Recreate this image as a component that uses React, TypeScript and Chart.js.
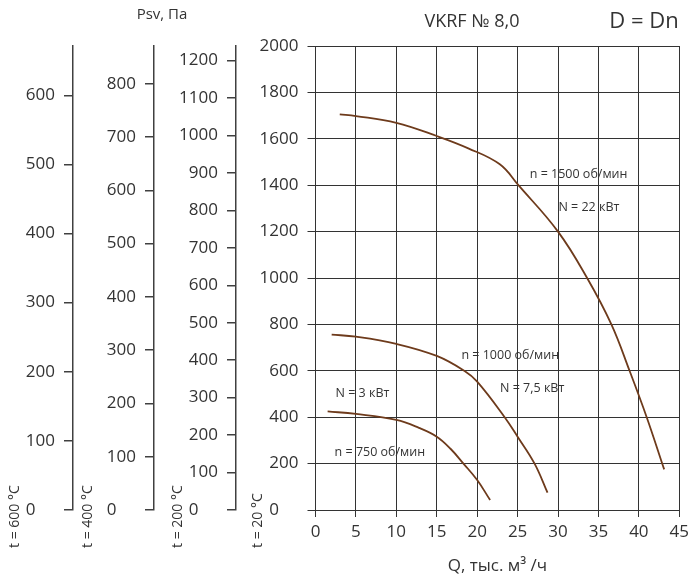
import React, { useEffect, useRef } from "react";
import { Chart, registerables } from "chart.js";

Chart.register(...registerables);

// ---- data ----
const qMin = 0;
const qMax = 45;
const qStep = 5;
const pMax20 = 2000;
const pStep20 = 200;
const pStepHot = 100;
const baseTemp = 20;
const hotTemps = [200, 400, 600];

const q1500 = [3.0, 5, 10, 15, 18.9, 22.8, 25.1, 30.0, 33.6, 36.6, 38.85, 40.97, 43.13];
const p1500 = [1705, 1698, 1669, 1612, 1559, 1490, 1400, 1200, 1000, 800, 600, 400, 175];

const q1000 = [2.0, 5, 10, 15, 18.4, 20, 23.4, 25, 27.1, 28.7];
const p1000 = [756, 747, 716, 664, 600, 553, 400, 316, 200, 75];

const q750 = [1.5, 5, 10, 12.8, 15, 16.7, 18.3, 20, 21.6];
const p750 = [425, 414, 388, 354, 316, 264, 200, 129, 43];

const noteTexts = ["n = 1500 об/мин", "N = 22 кВт", "n = 1000 об/мин", "N = 7,5 кВт", "N = 3 кВт", "n = 750 об/мин"];
const noteQ = [26.5, 30.05, 18.05, 22.83, 2.48, 2.36];
const noteP = [1448, 1306, 668, 522, 504, 250];

const titleMain = "VKRF № 8,0";
const titleD = "D = Dn";
const titleP = "Psv, Па";
const titleQ = "Q, тыс. м³ /ч";

// ---- styles ----
const FONT = "'Open Sans', 'DejaVu Sans', sans-serif";
const TEXT = "#333333";
const GRID = "#333333";
const AXIS = "#404040";
const CURVE = "#6e3b1c";

const tempMax = (t: number) => (pMax20 * (273 + baseTemp)) / (273 + t);
const zeroLabel = (v: any) => (Number(v) === 0 ? "0\u2007\u2007" : String(v));

const toPts = (xs: number[], ys: number[]) => xs.map((x, i) => ({ x, y: ys[i] }));

const scaleWidths: Record<string, number> = { y: 79.5, y200: 82, y400: 81, y600: 73 };

const textPlugin = {
  id: "texts",
  afterDraw(chart: any) {
    const ctx = chart.ctx as CanvasRenderingContext2D;
    const xs = chart.scales.x;
    const ys = chart.scales.y;
    ctx.save();
    ctx.fillStyle = TEXT;
    ctx.textBaseline = "middle";

    // notes on curves
    ctx.font = `12.5px ${FONT}`;
    ctx.textAlign = "left";
    noteTexts.forEach((t, i) => {
      ctx.fillText(t, xs.getPixelForValue(noteQ[i]), ys.getPixelForValue(noteP[i]));
    });

    // headers
    ctx.textAlign = "center";
    ctx.font = `18px ${FONT}`;
    ctx.fillText(titleMain, 472, 22);
    ctx.font = `22px ${FONT}`;
    ctx.fillText(titleD, 644, 22);
    ctx.font = `15px ${FONT}`;
    ctx.fillText(titleP, 162, 15);

    // rotated temperature labels
    const ids = ["y600", "y400", "y200", "y"];
    const temps = [600, 400, 200, baseTemp];
    const offs = [15, 15, 24, 22];
    ctx.font = `14px ${FONT}`;
    ctx.textAlign = "left";
    ids.forEach((id, i) => {
      const sc = chart.scales[id];
      const cx = sc.left + offs[i];
      ctx.save();
      ctx.translate(cx, 548);
      ctx.rotate(-Math.PI / 2);
      ctx.fillText(`t = ${temps[i]} °C`, 0, 0);
      ctx.restore();
    });
    ctx.restore();
  },
};

function hotScale(t: number, weight: number) {
  return {
    type: "linear" as const,
    position: "left" as const,
    weight,
    min: 0,
    max: tempMax(t),
    afterFit: (s: any) => {
      s.width = scaleWidths["y" + t];
    },
    grid: { drawOnChartArea: false, tickLength: 9, color: AXIS, lineWidth: 1.5 },
    border: { display: true, color: AXIS, width: 1.5 },
    ticks: {
      stepSize: pStepHot,
      includeBounds: false,
      padding: 9,
      color: TEXT,
      font: { family: FONT, size: 17 },
      callback: zeroLabel,
    },
  };
}

export default function App() {
  const ref = useRef<HTMLCanvasElement | null>(null);
  useEffect(() => {
    document.body.style.margin = "0";
    const canvas = ref.current!;
    const ds = (data: any[]) => ({
      data,
      borderColor: CURVE,
      borderWidth: 1.8,
      pointRadius: 0,
      fill: false,
      tension: 0.4,
      xAxisID: "x",
      yAxisID: "y",
    });
    const chart = new Chart(canvas, {
      type: "line",
      data: {
        datasets: [ds(toPts(q1500, p1500)), ds(toPts(q1000, p1000)), ds(toPts(q750, p750))],
      },
      options: {
        responsive: false,
        animation: false,
        layout: { padding: { left: 0, right: 12, top: 46, bottom: 0 } },
        plugins: { legend: { display: false }, tooltip: { enabled: false }, title: { display: false } },
        scales: {
          x: {
            type: "linear",
            position: "bottom",
            min: qMin,
            max: qMax,
            afterFit: (s: any) => {
              s.height = 73;
            },
            grid: { color: GRID, lineWidth: 1, tickLength: 7 },
            border: { display: true, color: GRID, width: 1 },
            ticks: {
              stepSize: qStep,
              autoSkip: false,
              maxRotation: 0,
              padding: 5,
              color: TEXT,
              font: { family: FONT, size: 17 },
            },
            title: {
              display: true,
              text: titleQ,
              color: TEXT,
              font: { family: FONT, size: 17 },
              padding: { top: 0, bottom: 7 },
            },
          },
          y: {
            type: "linear",
            position: "left",
            weight: 1,
            min: 0,
            max: pMax20,
            afterFit: (s: any) => {
              s.width = scaleWidths.y;
            },
            grid: { color: GRID, lineWidth: 1, tickLength: 8 },
            border: { display: true, color: GRID, width: 1 },
            ticks: {
              stepSize: pStep20,
              padding: 9,
              color: TEXT,
              font: { family: FONT, size: 17 },
              callback: zeroLabel,
            },
          },
          y200: hotScale(hotTemps[0], 2),
          y400: hotScale(hotTemps[1], 3),
          y600: hotScale(hotTemps[2], 4),
        },
      } as any,
      plugins: [textPlugin],
    });
    return () => chart.destroy();
  }, []);
  return (
    <div style={{ position: "absolute", left: 0, top: 0, width: 694, height: 583 }}>
      <canvas ref={ref} width={694} height={583} style={{ display: "block" }} />
    </div>
  );
}
